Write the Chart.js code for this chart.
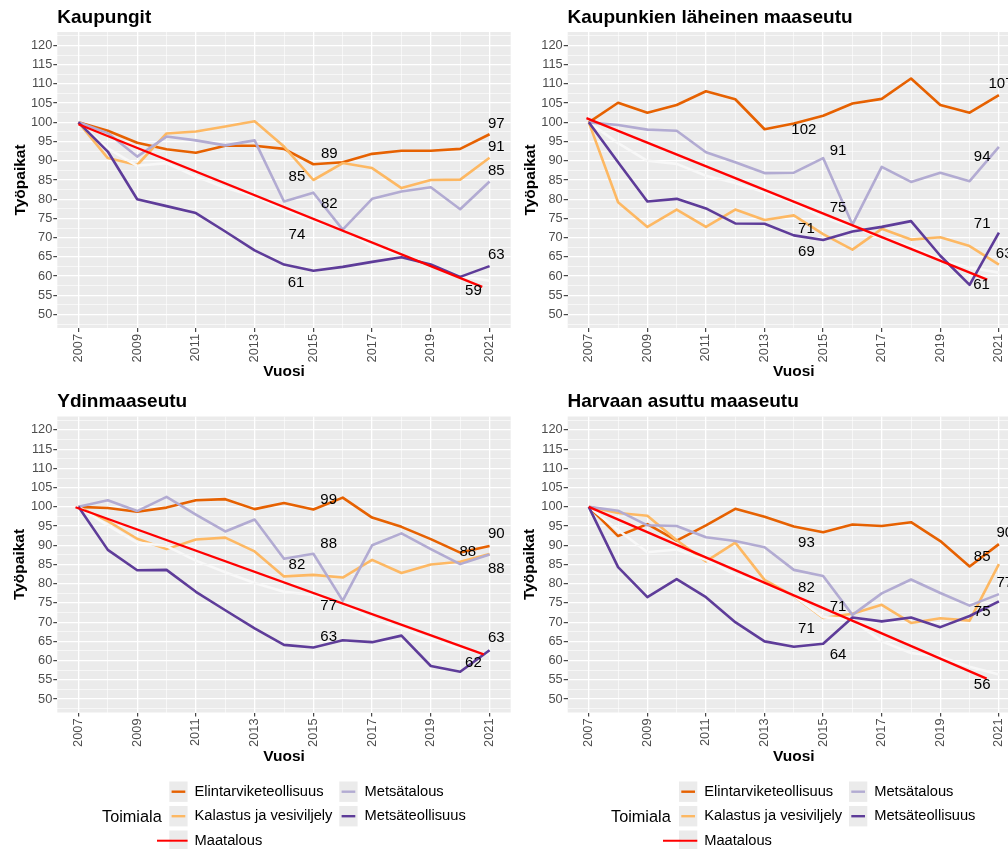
<!DOCTYPE html>
<html><head><meta charset="utf-8">
<script src="https://cdn.jsdelivr.net/npm/chart.js@4.4.1/dist/chart.umd.min.js"></script>
<style>
html,body{margin:0;padding:0;background:#fff;overflow:hidden;width:1008px;height:849px;position:relative}
canvas{position:absolute}
</style></head><body>
<canvas id="c1"></canvas><canvas id="c2"></canvas><canvas id="c3"></canvas><canvas id="c4"></canvas>
<script>
// ---------- DATA ----------
const years = [2007,2008,2009,2010,2011,2012,2013,2014,2015,2016,2017,2018,2019,2020,2021];
const seriesNames = ['Elintarviketeollisuus','Kalastus ja vesiviljely','Maatalous','Metsätalous','Metsäteollisuus'];
const xTickLabels = [2007,2009,2011,2013,2015,2017,2019,2021];
const yTickLabels = [50,55,60,65,70,75,80,85,90,95,100,105,110,115,120];
const yMinorTicks = [47.5,52.5,57.5,62.5,67.5,72.5,77.5,82.5,87.5,92.5,97.5,102.5,107.5,112.5,117.5,122.5];
const labelYears = [2015, 2021];

// Kaupungit
const kaupungitElin  = [100, 97.8, 94.7, 93.0, 92.1, 93.9, 93.9, 93.1, 89.1, 89.6, 91.8, 92.6, 92.6, 93.1, 96.9];
const kaupungitKala  = [100, 90.7, 88.9, 97.1, 97.6, 98.9, 100.3, 93.7, 85.0, 89.4, 88.1, 82.9, 85.0, 85.1, 90.8];
const kaupungitMaat  = [100, 93.2, 88.7, 89.4, 85.9, 83.0, 80.7, 77.3, 74.4, 72.1, 67.8, 65.3, 63.0, 60.0, 58.8];
const kaupungitMets  = [100, 97.2, 91.1, 96.3, 95.3, 94.0, 95.3, 79.4, 81.7, 72.1, 80.1, 82.0, 83.1, 77.4, 84.6];
const kaupungitMetsi = [100, 92.4, 80.0, 78.2, 76.4, 71.6, 66.7, 63.0, 61.4, 62.4, 63.7, 64.9, 63.0, 59.8, 62.6];
const kaupungitTrendX = [2007, 2020.75];
const kaupungitTrendY = [99.5, 57.2];
const kaupungitLabelX = [2015.54, 2014.44, 2014.44, 2015.54, 2014.41, 2021.23, 2021.23, 2020.45, 2021.23, 2021.23];
const kaupungitLabelY = [91.7, 85.7, 70.8, 78.8, 58.3, 99.7, 93.5, 56.1, 87.5, 65.6];

// Kaupunkien läheinen maaseutu
const lahiElin  = [100, 105.1, 102.5, 104.5, 108.1, 106.0, 98.2, 99.7, 101.7, 104.9, 106.1, 111.4, 104.5, 102.5, 107.1];
const lahiKala  = [100, 79.2, 72.8, 77.3, 72.8, 77.3, 74.6, 75.8, 70.9, 66.9, 72.3, 69.5, 70.1, 67.8, 63.0];
const lahiMaat  = [100, 94.6, 90.0, 89.2, 86.1, 84.2, 81.8, 79.0, 75.3, 72.9, 69.9, 67.7, 64.3, 62.2, 60.9];
const lahiMets  = [100, 99.3, 98.1, 97.8, 92.2, 89.6, 86.8, 86.9, 90.7, 73.4, 88.4, 84.5, 86.9, 84.7, 93.6];
const lahiMetsi = [100, 89.6, 79.4, 80.1, 77.6, 73.7, 73.6, 70.6, 69.4, 71.6, 72.8, 74.3, 65.3, 57.7, 71.3];
const lahiTrendX = [2006.92, 2020.6];
const lahiTrendY = [101.1, 59.1];
const lahiLabelX = [2014.34, 2014.43, 2015.51, 2015.51, 2014.43, 2021.07, 2021.18, 2020.41, 2020.43, 2020.43];
const lahiLabelY = [98.0, 72.3, 77.7, 92.6, 66.3, 110.1, 65.9, 57.8, 90.9, 73.7];

// Ydinmaaseutu
const ydinElin  = [100, 99.7, 98.7, 99.8, 101.7, 102.0, 99.4, 101.0, 99.3, 102.4, 97.2, 94.8, 91.6, 88.1, 89.8];
const ydinKala  = [100, 96.3, 91.7, 89.0, 91.5, 92.0, 88.4, 81.9, 82.3, 81.6, 86.2, 82.8, 85.0, 85.7, 87.7];
const ydinMaat  = [100, 95.2, 90.7, 89.8, 86.0, 83.0, 80.2, 77.9, 77.1, 74.7, 70.9, 68.4, 65.7, 63.1, 61.6];
const ydinMets  = [100, 101.7, 98.9, 102.6, 98.0, 93.6, 96.7, 86.5, 87.8, 75.6, 90.0, 93.1, 89.0, 85.1, 87.6];
const ydinMetsi = [100, 88.8, 83.5, 83.6, 77.9, 73.1, 68.4, 64.1, 63.4, 65.3, 64.8, 66.5, 58.6, 57.1, 62.7];
const ydinTrendX = [2006.9, 2020.8];
const ydinTrendY = [99.9, 61.6];
const ydinLabelX = [2015.52, 2014.44, 2015.52, 2015.52, 2015.52, 2021.23, 2020.26, 2020.45, 2021.23, 2021.23];
const ydinLabelY = [101.7, 84.9, 74.3, 90.3, 66.1, 93.1, 88.4, 59.5, 83.8, 65.9];

// Harvaan asuttu maaseutu
const harvaElin  = [100, 92.4, 95.5, 91.2, 95.2, 99.5, 97.4, 94.9, 93.4, 95.4, 95.0, 96.0, 91.1, 84.5, 90.3];
const harvaKala  = [100, 98.4, 97.7, 91.3, 85.8, 90.7, 81.0, 76.8, 71.1, 72.2, 74.5, 69.8, 71.0, 70.4, 85.1];
const harvaMaat  = [100, 94.0, 88.2, 88.9, 86.2, 82.4, 79.9, 76.9, 71.3, 70.6, 65.0, 62.0, 61.0, 58.4, 56.4];
const harvaMets  = [100, 99.0, 95.2, 95.0, 92.1, 91.1, 89.5, 83.6, 82.0, 71.9, 77.5, 81.1, 77.6, 74.3, 77.3];
const harvaMetsi = [100, 84.3, 76.5, 81.2, 76.5, 70.0, 65.0, 63.6, 64.4, 71.2, 70.2, 71.2, 68.7, 71.6, 75.4];
const harvaTrendX = [2007, 2020.58];
const harvaTrendY = [100, 55.3];
const harvaLabelX = [2014.43, 2015.51, 2014.43, 2014.43, 2015.51, 2021.2, 2020.43, 2020.43, 2021.2, 2020.43];
const harvaLabelY = [90.5, 73.9, 68.3, 78.9, 61.6, 93.3, 87.1, 53.6, 80.2, 72.6];

// ---------- STYLE ----------
const FONT = "'Liberation Sans', Arial, Helvetica, sans-serif";
Chart.defaults.font.family = FONT;
const colors = ['#E66101', '#FDB863', '#F7F7F7', '#B2ABD2', '#5E3C99'];
const trendColor = '#FF0000';

const panels = [
  { id:'c1', title:'Kaupungit', canvas:{left:0, top:0, w:512, h:385}, area:{l:57.3, r:510.7, t:32, b:328},
    titleX:57.3, titleY:23, yTitleX:20.7, xTitleY:371.7,
    series:[kaupungitElin, kaupungitKala, kaupungitMaat, kaupungitMets, kaupungitMetsi],
    trendX:kaupungitTrendX, trendY:kaupungitTrendY, labelX:kaupungitLabelX, labelY:kaupungitLabelY, legend:null },
  { id:'c2', title:'Kaupunkien läheinen maaseutu', canvas:{left:512, top:0, w:518, h:385}, area:{l:567.7, r:1020, t:32, b:328},
    titleX:567.5, titleY:23, yTitleX:530.7, xTitleY:371.7,
    series:[lahiElin, lahiKala, lahiMaat, lahiMets, lahiMetsi],
    trendX:lahiTrendX, trendY:lahiTrendY, labelX:lahiLabelX, labelY:lahiLabelY, legend:null },
  { id:'c3', title:'Ydinmaaseutu', canvas:{left:0, top:385, w:512, h:464}, area:{l:57.3, r:510.7, t:416.5, b:712.5},
    titleX:57.3, titleY:407, yTitleX:20.2, xTitleY:756.7,
    series:[ydinElin, ydinKala, ydinMaat, ydinMets, ydinMetsi],
    trendX:ydinTrendX, trendY:ydinTrendY, labelX:ydinLabelX, labelY:ydinLabelY,
    legend:{titleX:102, boxX:169.3, box2X:339.3, redX0:157} },
  { id:'c4', title:'Harvaan asuttu maaseutu', canvas:{left:512, top:385, w:518, h:464}, area:{l:567.7, r:1020, t:416.5, b:712.5},
    titleX:567.5, titleY:407, yTitleX:530.2, xTitleY:756.7,
    series:[harvaElin, harvaKala, harvaMaat, harvaMets, harvaMetsi],
    trendX:harvaTrendX, trendY:harvaTrendY, labelX:harvaLabelX, labelY:harvaLabelY,
    legend:{titleX:611, boxX:679, box2X:849, redX0:663} }
];

function drawLegend(ctx, p, datasets) {
  const L = p.legend, ox = p.canvas.left, oy = p.canvas.top;
  const rows = [791.7, 816.2, 840.7];
  ctx.save();
  ctx.textBaseline = 'middle'; ctx.textAlign = 'left';
  ctx.fillStyle = '#000';
  ctx.font = '16.3px ' + FONT;
  ctx.fillText('Toimiala', L.titleX - ox, 817.2 - oy);
  const items = [[0,0,0],[1,0,1],[2,0,2],[3,1,0],[4,1,1]];
  items.forEach(([di, col, row]) => {
    const bx = (col ? L.box2X : L.boxX) - ox, cy = rows[row] - oy;
    ctx.fillStyle = '#EBEBEB';
    ctx.fillRect(bx, cy - 10.2, 18.3, 20.4);
    ctx.strokeStyle = datasets[di].borderColor; ctx.lineWidth = 2.4; ctx.lineCap = 'butt';
    ctx.beginPath(); ctx.moveTo(bx + 2.3, cy); ctx.lineTo(bx + 16, cy); ctx.stroke();
    if (di === 2) {
      ctx.strokeStyle = trendColor; ctx.lineWidth = 2;
      ctx.beginPath(); ctx.moveTo(L.redX0 - ox, cy); ctx.lineTo(bx + 18.3, cy); ctx.stroke();
    }
    ctx.fillStyle = '#000';
    ctx.font = '14.7px ' + FONT;
    ctx.fillText(datasets[di].label, bx + 25.2, cy);
  });
  ctx.restore();
}

function makePanel(p) {
  const cv = document.getElementById(p.id);
  cv.width = p.canvas.w; cv.height = p.canvas.h;
  cv.style.left = p.canvas.left + 'px'; cv.style.top = p.canvas.top + 'px';
  cv.style.width = p.canvas.w + 'px'; cv.style.height = p.canvas.h + 'px';
  const yW = p.area.l - p.canvas.left;
  const padTop = p.area.t - p.canvas.top;
  const padRight = p.canvas.left + p.canvas.w - p.area.r;
  const xH = 45;
  const padBottom = p.canvas.top + p.canvas.h - p.area.b - xH;
  const datasets = p.series.map((arr, i) => ({
    label: seriesNames[i],
    data: years.map((yr, j) => ({x: yr, y: arr[j]})),
    borderColor: colors[i], backgroundColor: colors[i], borderWidth: 2.6,
    pointRadius: 0, tension: 0, fill: false, borderJoinStyle: 'round',
    order: 6 - i
  }));
  datasets.push({
    label: 'Maatalous trend',
    data: p.trendX.map((x, i) => ({x: x, y: p.trendY[i]})),
    borderColor: trendColor, borderWidth: 2.3, pointRadius: 0, fill: false, order: 0
  });
  const isMajorX = v => xTickLabels.includes(v);
  const isMajorY = v => yTickLabels.includes(v);
  const allY = yTickLabels.concat(yMinorTicks).sort((a, b) => a - b);
  const panelPlugin = {
    id: 'panelText' + p.id,
    beforeDraw(chart) {
      const a = chart.chartArea, ctx = chart.ctx;
      ctx.save(); ctx.fillStyle = '#EBEBEB';
      ctx.fillRect(a.left, a.top, a.right - a.left, a.bottom - a.top);
      ctx.restore();
    },
    afterDatasetsDraw(chart) {
      const ctx = chart.ctx, xs = chart.scales.x, ys = chart.scales.y;
      ctx.save();
      ctx.fillStyle = '#000'; ctx.font = '15px ' + FONT;
      ctx.textAlign = 'center'; ctx.textBaseline = 'middle';
      let k = 0;
      labelYears.forEach(yr => {
        const idx = years.indexOf(yr);
        p.series.forEach(arr => {
          const txt = String(Math.round(arr[idx]));
          ctx.fillText(txt, xs.getPixelForValue(p.labelX[k]), ys.getPixelForValue(p.labelY[k]));
          k++;
        });
      });
      ctx.restore();
    },
    afterDraw(chart) {
      const ctx = chart.ctx, a = chart.chartArea;
      ctx.save();
      ctx.fillStyle = '#000';
      ctx.font = 'bold 19px ' + FONT; ctx.textAlign = 'left'; ctx.textBaseline = 'alphabetic';
      ctx.fillText(p.title, p.titleX - p.canvas.left, p.titleY - p.canvas.top);
      ctx.font = 'bold 15.5px ' + FONT; ctx.textAlign = 'center'; ctx.textBaseline = 'middle';
      ctx.fillText('Vuosi', (a.left + a.right) / 2, p.xTitleY - p.canvas.top);
      ctx.save();
      ctx.translate(p.yTitleX - p.canvas.left, (a.top + a.bottom) / 2);
      ctx.rotate(-Math.PI / 2);
      ctx.fillText('Työpaikat', 0, 0);
      ctx.restore();
      ctx.restore();
      if (p.legend) drawLegend(ctx, p, chart.data.datasets);
    }
  };
  new Chart(cv, {
    type: 'line',
    data: { datasets: datasets },
    options: {
      responsive: false, animation: false, devicePixelRatio: 1,
      layout: { padding: { top: padTop, left: 0, right: padRight, bottom: padBottom } },
      plugins: { legend: { display: false }, tooltip: { enabled: false }, title: { display: false } },
      scales: {
        x: {
          type: 'linear', min: 2006.28, max: 2021.72,
          afterBuildTicks: s => { s.ticks = years.map(v => ({value: v})); },
          afterFit: s => { s.height = xH; },
          ticks: { autoSkip: false, minRotation: 90, maxRotation: 90, padding: 2, color: '#4D4D4D',
                   font: { size: 12.8, family: FONT }, callback: v => isMajorX(v) ? String(v) : '' },
          grid: { color: '#FFFFFF', lineWidth: c => (c.tick && isMajorX(c.tick.value)) ? 1.3 : 0.6,
                  drawTicks: true, tickLength: 4, tickWidth: 1.1,
                  tickColor: c => (c.tick && isMajorX(c.tick.value)) ? '#333333' : 'rgba(0,0,0,0)' },
          border: { display: false }
        },
        y: {
          type: 'linear', min: 46.5, max: 123.5,
          afterBuildTicks: s => { s.ticks = allY.map(v => ({value: v})); },
          afterFit: s => { s.width = yW; },
          ticks: { autoSkip: false, padding: 1, color: '#4D4D4D',
                   font: { size: 12.8, family: FONT }, callback: v => isMajorY(v) ? String(v) : '' },
          grid: { color: '#FFFFFF', lineWidth: c => (c.tick && isMajorY(c.tick.value)) ? 1.3 : 0.6,
                  drawTicks: true, tickLength: 4, tickWidth: 1.1,
                  tickColor: c => (c.tick && isMajorY(c.tick.value)) ? '#333333' : 'rgba(0,0,0,0)' },
          border: { display: false }
        }
      }
    },
    plugins: [panelPlugin]
  });
}
panels.forEach(makePanel);
</script>
</body></html>
